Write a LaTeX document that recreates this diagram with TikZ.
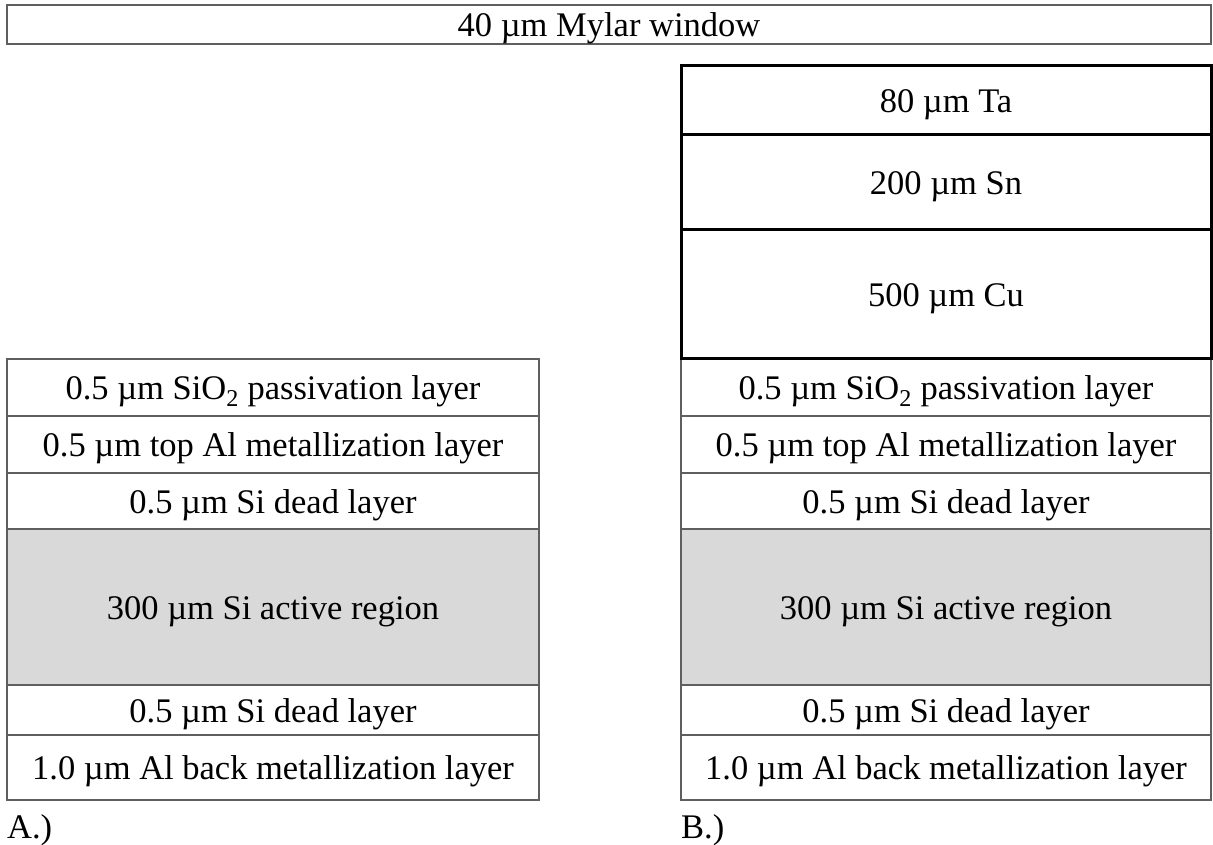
\documentclass[tikz,border=0pt]{standalone}
\usepackage{fontspec}
\setmainfont{Liberation Serif}
\definecolor{edgegray}{RGB}{95,95,95}
\definecolor{activegray}{RGB}{217,217,217}
\begin{document}
\begin{tikzpicture}[x=1pt,y=-1pt,
  txt/.style={font=\fontsize{34.5}{40}\selectfont},
  boxtxt/.style={txt, text height=30pt, text depth=6pt},
  layer/.style={boxtxt, draw=edgegray, line width=1.5pt, inner sep=0pt, fill=white},
  active/.style={layer, fill=activegray},
  absorber/.style={boxtxt, draw=black, line width=3pt, inner sep=0pt},
  colA/.style={minimum width=532pt},
  colB/.style={minimum width=530pt}]
\useasboundingbox (0,0) rectangle (1213,845);
% Mylar window
\node[layer, minimum width=1204pt, minimum height=39pt] (mylar) at (609,24.5) {40 µm Mylar window};
% Column A
\node[layer, colA, minimum height=57pt]  (a1) at (273,387.5) {0.5 µm SiO\textsubscript{2} passivation layer};
\node[layer, colA, minimum height=57pt]  (a2) at (273,444.5) {0.5 µm top Al metallization layer};
\node[layer, colA, minimum height=56pt]  (a3) at (273,501)   {0.5 µm Si dead layer};
\node[active, colA, minimum height=156pt] (a4) at (273,607)  {300 µm Si active region};
\node[layer, colA, minimum height=50pt]  (a5) at (273,710)   {0.5 µm Si dead layer};
\node[layer, colA, minimum height=65pt]  (a6) at (273,767.5) {1.0 µm Al back metallization layer};
\node[txt, anchor=base west, inner sep=0pt] (labA) at (7,838) {A.)};
% Column B
\node[layer, colB, minimum height=57pt]  (b1) at (946,387.5) {0.5 µm SiO\textsubscript{2} passivation layer};
\node[layer, colB, minimum height=57pt]  (b2) at (946,444.5) {0.5 µm top Al metallization layer};
\node[layer, colB, minimum height=56pt]  (b3) at (946,501)   {0.5 µm Si dead layer};
\node[active, colB, minimum height=156pt] (b4) at (946,607)  {300 µm Si active region};
\node[layer, colB, minimum height=50pt]  (b5) at (946,710)   {0.5 µm Si dead layer};
\node[layer, colB, minimum height=65pt]  (b6) at (946,767.5) {1.0 µm Al back metallization layer};
\node[txt, anchor=base west, inner sep=0pt] (labB) at (681,838) {B.)};
% Absorbers
\node[absorber, colB, minimum height=68.7pt] (ta) at (946,100.3) {80 µm Ta};
\node[absorber, colB, minimum height=95.3pt] (sn) at (946,182.3) {200 µm Sn};
\node[absorber, colB, minimum height=128pt]  (cu) at (946,294)   {500 µm Cu};
\end{tikzpicture}
\end{document}
